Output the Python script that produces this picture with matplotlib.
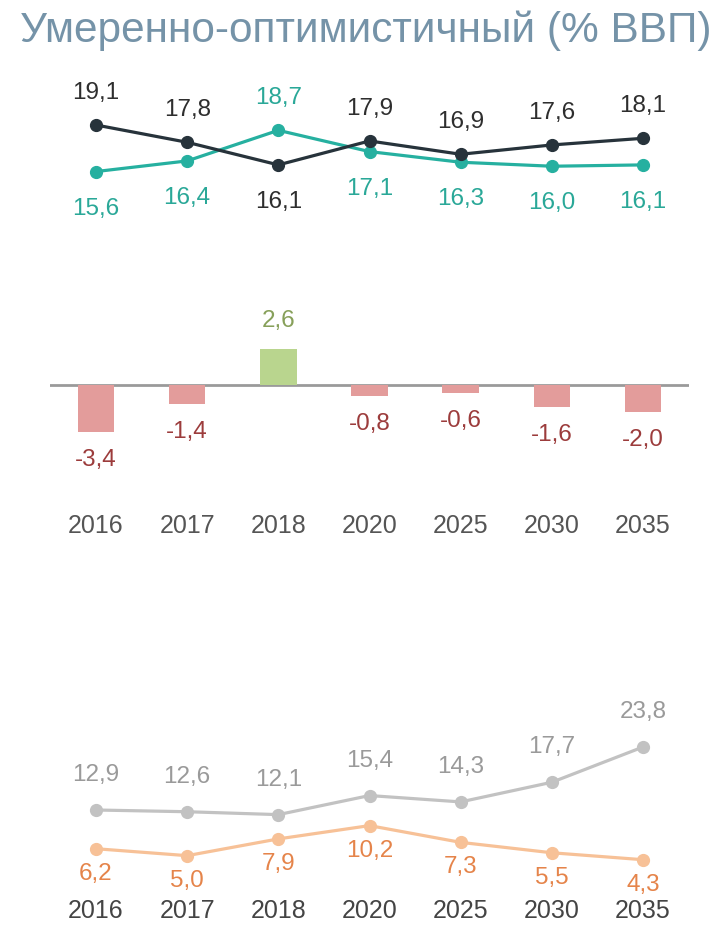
import matplotlib
matplotlib.use("Agg")
import matplotlib.pyplot as plt

plt.rcParams['font.family'] = ['Liberation Sans', 'DejaVu Sans']

years = ["2016", "2017", "2018", "2020", "2025", "2030", "2035"]

# верхний блок
dark_vals = [19.1, 17.8, 16.1, 17.9, 16.9, 17.6, 18.1]
teal_vals = [15.6, 16.4, 18.7, 17.1, 16.3, 16.0, 16.1]

# средний блок (баланс)
bar_vals = [-3.4, -1.4, 2.6, -0.8, -0.6, -1.6, -2.0]

# нижний блок
grey_vals = [12.9, 12.6, 12.1, 15.4, 14.3, 17.7, 23.8]
orange_vals = [6.2, 5.0, 7.9, 10.2, 7.3, 5.5, 4.3]

W, H = 715, 925
fig = plt.figure(figsize=(W / 100, H / 100), dpi=100)
fig.patch.set_facecolor("white")

X0, DX = 96, 91.17          # px of first point, px between points
LEFT = X0 - 0.5 * DX
RIGHT = X0 + 6.5 * DX
x = list(range(len(years)))


def fmt(v):
    return f"{v:.1f}".replace(".", ",")


def add_ax(y_top, y_bot, ref_val, ref_px, scale):
    # оси в пикселях: ref_val рисуется на высоте ref_px, scale px на единицу
    ax = fig.add_axes([LEFT / W, 1 - y_bot / H, (RIGHT - LEFT) / W, (y_bot - y_top) / H])
    ax.set_xlim(-0.5, len(years) - 0.5)
    ax.set_ylim(ref_val - (y_bot - ref_px) / scale, ref_val + (ref_px - y_top) / scale)
    for s in ax.spines.values():
        s.set_visible(False)
    ax.set_yticks([])
    ax.set_xticks([])
    ax.patch.set_alpha(0)
    return ax


def pair_lines(ax, a, b, ca, cb, la, lb, up, down):
    ax.plot(x, a, color=ca, lw=2.3, marker="o", ms=8.5, zorder=3)
    ax.plot(x, b, color=cb, lw=2.3, marker="o", ms=8.5, zorder=2)
    for i in x:
        for v, other, col in ((a[i], b[i], la), (b[i], a[i], lb)):
            off = -up if v >= other else down
            ax.annotate(fmt(v), (i, v), xytext=(0, -off), textcoords="offset pixels",
                        ha="center", va="center", fontsize=17.5, color=col)


fig.text(366 / W, 1 - 31 / H, "Умеренно-оптимистичный (% ВВП)", ha="center", va="center",
         fontsize=30.5, color="#7593a8")

# верх
ax1 = add_ax(60, 240, 19.1, 125, 13.3)
pair_lines(ax1, dark_vals, teal_vals, "#27333b", "#26b0a0", "#2e2e2e", "#2aa898", 32, 37)

# середина
ax2 = add_ax(280, 470, 0, 385, 13.7)
ax2.axhline(0, color="#9a9a9a", lw=2, zorder=1)
bar_cols = ["#b9d58e" if v > 0 else "#e39c9b" for v in bar_vals]
ax2.bar(x, bar_vals, width=0.4, color=bar_cols, zorder=2)
for i, v in enumerate(bar_vals):
    ax2.annotate(fmt(v), (i, v), xytext=(0, 28 if v > 0 else -28), textcoords="offset pixels",
                 ha="center", va="center", fontsize=17.5,
                 color="#87a05a" if v > 0 else "#9c3c3c")
ax2.set_xticks(x)
ax2.set_xticklabels(years, fontsize=18, color="#555555")
ax2.tick_params(axis="x", length=0, pad=32)

# низ
ax3 = add_ax(680, 895, 12.9, 810, 5.78)
pair_lines(ax3, grey_vals, orange_vals, "#c2c2c2", "#f7c197", "#9a9a9a", "#e5844a", 35, 25)
ax3.set_xticks(x)
ax3.set_xticklabels(years, fontsize=18, color="#444444")
ax3.tick_params(axis="x", length=0, pad=3)

fig.savefig("out.png", dpi=100, facecolor="white")
